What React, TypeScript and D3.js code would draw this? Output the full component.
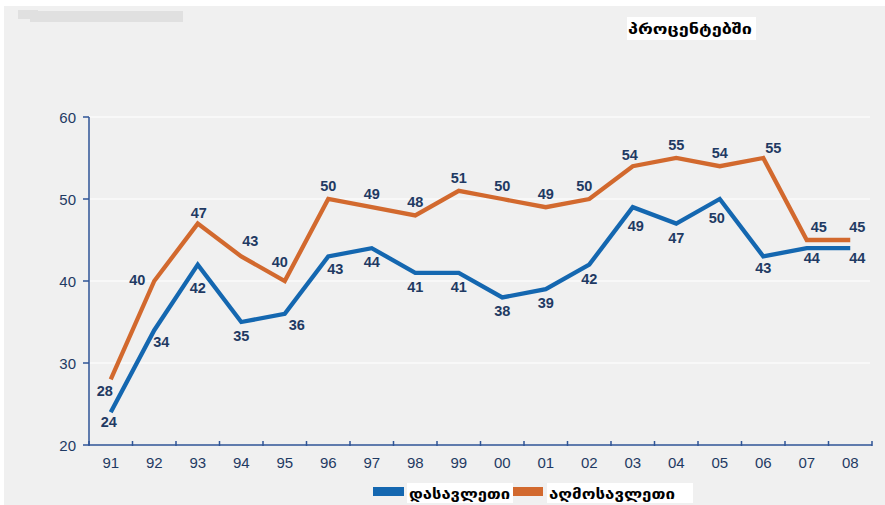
import React, { useEffect } from "react";
import * as d3 from "d3";

const years = ["91","92","93","94","95","96","97","98","99","00","01","02","03","04","05","06","07","08"];
const westValues = [24,34,42,35,36,43,44,41,41,38,39,42,49,47,50,43,44,44];
const eastValues = [28,40,47,43,40,50,49,48,51,50,49,50,54,55,54,55,45,45];
const yTicks = [20,30,40,50,60];
const westName = "დასავლეთი";
const eastName = "აღმოსავლეთი";
const unitTitle = "პროცენტებში";

const W = 885, H = 505;
const BLUE = "#1467b0";
const ORANGE = "#d2692e";
const NAVY = "#1f3a63";
const AXIS = "#2f5597";

// label placement tweaks (styling): [dx, dy] of label centre from point
const eastLabelOffset: Record<number, [number, number]> = {
  0: [-6, 12], 1: [-17, -1], 2: [1, -11], 3: [9, -15], 4: [-5, -19], 11: [-5, -13],
  12: [-3, -11], 15: [10, -10], 16: [12, -13], 17: [7, -13],
};
const westLabelOffset: Record<number, [number, number]> = {
  0: [-2, 10], 1: [7, 12], 2: [0, 23], 4: [12, 11], 5: [7, 13], 12: [3, 19], 14: [-3, 19],
  15: [0, 12], 16: [5, 10], 17: [7, 10],
};

export default function App() {
  useEffect(() => { document.body.style.margin = "0"; }, []);
  const x = d3.scaleBand<string>().domain(years).range([89, 872]);
  const y = d3.scaleLinear().domain([20, 60]).range([445, 117]);
  const cx = (i: number) => (x(years[i]) as number) + x.bandwidth() / 2;
  const line = d3.line<number>().x((_, i) => cx(i)).y((v) => y(v));
  const font = "'Liberation Sans', Arial, sans-serif";
  const geo = "'DejaVu Sans', sans-serif";
  const boundaries = years.map((yr) => x(yr) as number).concat([872]);

  return (
    <svg width={W} height={H} style={{ display: "block", position: "absolute", left: 0, top: 0 }}>
      <rect x={0} y={0} width={W} height={H} fill="#ffffff" />
      <rect x={4} y={6} width={W - 4} height={H - 6} fill="#f0f0f0" />
      <rect x={18} y={10} width={20} height={9} fill="#e0e0e0" />
      <rect x={30} y={11} width={153} height={11} fill="#e0e0e0" />
      {/* title */}
      <rect x={627} y={17} width={129} height={23} fill="#ffffff" />
      <text x={628} y={34} textLength={124} lengthAdjust="spacingAndGlyphs" fontFamily={geo} fontWeight="bold" fontSize={15} fill="#000">{unitTitle}</text>
      {/* gridlines */}
      {yTicks.filter((t) => t > 20).map((t) => (
        <line key={t} x1={89} x2={870} y1={y(t)} y2={y(t)} stroke="#ffffff" strokeWidth={1.2} />
      ))}
      {/* y axis */}
      <line x1={89} x2={89} y1={y(60)} y2={y(20)} stroke={AXIS} strokeWidth={1.5} />
      {yTicks.map((t) => (
        <g key={t}>
          <line x1={83} x2={89} y1={y(t)} y2={y(t)} stroke={AXIS} strokeWidth={1.5} />
          <text x={76} y={y(t) + 5.5} textAnchor="end" fontFamily={font} fontSize={15} fill={NAVY}>{t}</text>
        </g>
      ))}
      {/* x axis */}
      <line x1={89} x2={872} y1={y(20)} y2={y(20)} stroke={AXIS} strokeWidth={1.5} />
      {boundaries.map((b, i) => (
        <line key={i} x1={b} x2={b} y1={y(20) - 4} y2={y(20) + 1} stroke={AXIS} strokeWidth={1.5} />
      ))}
      {years.map((yr, i) => (
        <text key={yr} x={cx(i)} y={468} textAnchor="middle" fontFamily={font} fontSize={15} fill={NAVY}>{yr}</text>
      ))}
      {/* lines */}
      <path d={line(eastValues) as string} fill="none" stroke={ORANGE} strokeWidth={4.3} />
      <path d={line(westValues) as string} fill="none" stroke={BLUE} strokeWidth={4.3} />
      {/* labels */}
      {eastValues.map((v, i) => {
        const [dx, dy] = eastLabelOffset[i] || [0, -13];
        return <text key={"e" + i} x={cx(i) + dx} y={y(v) + dy + 5} textAnchor="middle" fontFamily={font} fontWeight="bold" fontSize={14.5} fill={NAVY}>{v}</text>;
      })}
      {westValues.map((v, i) => {
        const [dx, dy] = westLabelOffset[i] || [0, 14];
        return <text key={"w" + i} x={cx(i) + dx} y={y(v) + dy + 5} textAnchor="middle" fontFamily={font} fontWeight="bold" fontSize={14.5} fill={NAVY}>{v}</text>;
      })}
      {/* legend */}
      <rect x={373} y={487} width={31} height={9} fill={BLUE} />
      <rect x={407} y={483} width={106} height={20} fill="#ffffff" />
      <text x={409} y={499} textLength={101} lengthAdjust="spacingAndGlyphs" fontFamily={geo} fontWeight="bold" fontSize={14} fill="#000">{westName}</text>
      <rect x={513} y={487} width={30} height={9} fill={ORANGE} />
      <rect x={547} y={483} width={146} height={20} fill="#ffffff" />
      <text x={549} y={499} textLength={126} lengthAdjust="spacingAndGlyphs" fontFamily={geo} fontWeight="bold" fontSize={14} fill="#000">{eastName}</text>
    </svg>
  );
}
